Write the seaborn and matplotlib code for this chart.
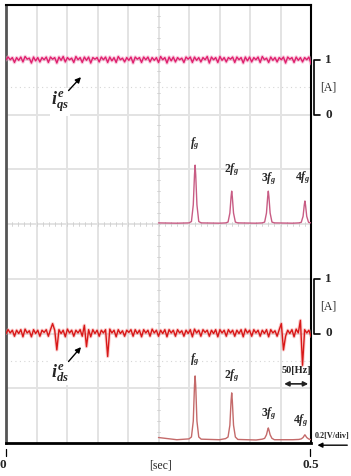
import numpy as np
import matplotlib
matplotlib.use("Agg")
import matplotlib.pyplot as plt
import seaborn as sns

sns.set_style("white")
plt.rcParams['font.family'] = ['Liberation Serif', 'DejaVu Serif']
plt.rcParams['mathtext.fontset'] = 'custom'
plt.rcParams['mathtext.it'] = 'Liberation Serif:italic:bold'
plt.rcParams['mathtext.rm'] = 'Liberation Serif:bold'

# ---------------- data ----------------
t_start, t_end = 0.0, 0.5          # [sec]
n_samples = 145

# i_qs^e [A] (top trace)
iqs = [1.00,
       1.05, 1.00, 1.04, 0.95, 1.04, 0.99, 1.05, 0.96,
       1.06, 1.01, 1.03, 0.94, 1.05, 0.98, 1.04, 0.96,
       1.04, 1.00, 1.05, 0.95, 1.05, 1.01, 1.04, 0.94,
       1.05, 0.99, 1.06, 0.96, 1.04, 1.00, 1.03, 0.95,
       1.06, 1.00, 1.04, 0.95, 1.05, 0.99, 1.05, 0.94,
       1.04, 1.01, 1.04, 0.96, 1.05, 1.00, 1.05, 0.95,
       1.05, 0.98, 1.04, 0.95, 1.06, 1.00, 1.03, 0.96,
       1.04, 0.99, 1.05, 0.94, 1.05, 1.01, 1.04, 0.95,
       1.05, 1.00, 1.05, 0.96, 1.04, 0.99, 1.04, 0.95,
       1.06, 1.00, 1.04, 0.94, 1.05, 0.98, 1.05, 0.96,
       1.04, 1.00, 1.03, 0.95, 1.05, 1.01, 1.05, 0.95,
       1.05, 0.99, 1.04, 0.96, 1.04, 1.00, 1.06, 0.94,
       1.05, 1.00, 1.04, 0.95, 1.06, 0.99, 1.04, 0.96,
       1.04, 1.01, 1.05, 0.95, 1.05, 1.00, 1.04, 0.94,
       1.05, 0.98, 1.05, 0.96, 1.04, 1.00, 1.05, 0.95,
       1.06, 1.00, 1.03, 0.95, 1.05, 0.99, 1.04, 0.96,
       1.04, 1.00, 1.05, 0.94, 1.05, 1.01, 1.04, 0.95,
       1.05, 0.99, 1.04, 0.96, 1.04, 1.00, 1.05, 0.93]

# i_ds^e [A] (bottom trace)
ids = [0.00,
       0.07, 0.01, 0.06, -0.05, 0.06, 0.00, 0.07, -0.06,
       0.08, 0.01, 0.05, -0.06, 0.07, 0.00, 0.06, -0.05,
       0.06, 0.02, 0.07, -0.05, 0.07, 0.18, 0.06, -0.30,
       0.07, 0.00, 0.06, -0.06, 0.08, 0.01, 0.06, -0.05,
       0.06, 0.01, 0.07, -0.05, 0.15, -0.24, 0.07, -0.06,
       0.07, 0.00, 0.06, -0.05, 0.06, 0.01, 0.07, -0.42,
       0.08, 0.01, 0.06, -0.06, 0.07, 0.00, 0.05, -0.05,
       0.06, 0.02, 0.07, -0.05, 0.07, 0.00, 0.06, -0.06,
       0.07, 0.01, 0.06, -0.05, 0.08, 0.01, 0.06, -0.05,
       0.06, 0.00, 0.07, -0.06, 0.07, 0.01, 0.06, -0.05,
       0.07, 0.01, 0.05, -0.05, 0.06, 0.00, 0.07, -0.06,
       0.08, 0.01, 0.06, -0.05, 0.07, 0.02, 0.06, -0.05,
       0.06, 0.00, 0.07, -0.06, 0.07, 0.01, 0.06, -0.05,
       0.07, 0.01, 0.06, -0.05, 0.06, 0.00, 0.07, -0.06,
       0.08, 0.01, 0.06, -0.05, 0.07, 0.01, 0.06, -0.05,
       0.06, 0.00, 0.07, -0.06, 0.07, 0.01, 0.05, -0.05,
       0.07, 0.18, -0.30, -0.05, 0.06, 0.00, 0.07, -0.06,
       0.08, 0.01, 0.24, -0.58, 0.07, 0.01, 0.06, -0.05]

# spectra [Hz] -> [V]
freq = [0, 30, 50, 54, 57, 59, 60, 61, 63, 66, 70,
        100, 110, 114, 117, 119, 120, 121, 123, 126, 130,
        160, 170, 174, 177, 179, 180, 181, 183, 186, 190,
        220, 230, 234, 237, 239, 240, 241, 243, 246, 250]
spec_qs = [0.004, 0.003, 0.004, 0.009, 0.07, 0.18, 0.215, 0.18, 0.07, 0.009, 0.004,
           0.003, 0.004, 0.007, 0.04, 0.10, 0.12, 0.10, 0.04, 0.007, 0.004,
           0.003, 0.004, 0.007, 0.04, 0.10, 0.12, 0.10, 0.04, 0.007, 0.004,
           0.003, 0.004, 0.006, 0.028, 0.07, 0.084, 0.07, 0.028, 0.006, 0.004]
spec_ds = [0.02, 0.012, 0.015, 0.022, 0.08, 0.21, 0.245, 0.21, 0.08, 0.022, 0.014,
           0.012, 0.016, 0.022, 0.065, 0.155, 0.183, 0.155, 0.065, 0.022, 0.013,
           0.011, 0.014, 0.017, 0.03, 0.048, 0.055, 0.048, 0.03, 0.017, 0.012,
           0.012, 0.013, 0.015, 0.02, 0.027, 0.03, 0.027, 0.02, 0.015, 0.012]
harm_freqs = [60, 120, 180, 240]
harm_labels = [r'$f_g$', r'$2f_g$', r'$3f_g$', r'$4f_g$']

# ---------------- figure ----------------
W, H = 351, 476
fig = plt.figure(figsize=(W / 100, H / 100), dpi=100)
rect = [6 / W, 33 / H, 305 / W, 438 / H]

# oscilloscope graticule (division units)
g = fig.add_axes(rect)
g.set_xlim(0, 10)
g.set_ylim(0, 8)
g.set_xticks([]); g.set_yticks([])
grid_c = '#e3e3e3'
for xv in range(1, 10):
    g.axvline(xv, color=grid_c, lw=1.4, zorder=0)
for yv in range(1, 8):
    g.axhline(yv, color=grid_c, lw=1.4, zorder=0)
for yv in (6.5, 1.5):
    g.axhline(yv, color='#d6d6d6', lw=0.8, ls=(0, (1, 3)), zorder=0)
# minor ticks on centre lines
for yy in np.arange(0.2, 8, 0.2):
    g.plot([4.96, 5.04], [yy, yy], color='#cfcfcf', lw=0.6, zorder=0)
for xx in np.arange(0.2, 10, 0.2):
    g.plot([xx, xx], [3.97, 4.03], color='#cfcfcf', lw=0.6, zorder=0)
for side, lw, c in (('left', 2.0, '#555555'), ('bottom', 2.0, 'black'),
                    ('right', 1.5, 'black'), ('top', 1.5, 'black')):
    g.spines[side].set_linewidth(lw)
    g.spines[side].set_color(c)

# top time trace: 1 A/div, zero at division 6
ax1 = fig.add_axes(rect)
ax1.axis('off')
t = np.linspace(t_start, t_end, n_samples)
sns.lineplot(x=t, y=iqs, ax=ax1, color='#f4a0c4', lw=2.6, alpha=0.5)
sns.lineplot(x=t, y=iqs, ax=ax1, color='#e0206e', lw=1.0)
ax1.set_xlim(t_start, t_end)
ax1.set_ylim(-6, 2)

# bottom time trace: zero at division 2
ax2 = fig.add_axes(rect)
ax2.axis('off')
sns.lineplot(x=t, y=ids, ax=ax2, color='#f49090', lw=2.4, alpha=0.45)
sns.lineplot(x=t, y=ids, ax=ax2, color='#d81818', lw=1.0)
ax2.set_xlim(t_start, t_end)
ax2.set_ylim(-2, 6)

# top spectrum: 50 Hz/div from centre, 0.2 V/div, baseline division 4
ax3 = fig.add_axes(rect)
ax3.axis('off')
sns.lineplot(x=freq, y=spec_qs, ax=ax3, color='#c85c84', lw=1.0)
ax3.set_xlim(-250, 250)
ax3.set_ylim(-0.8, 0.8)

# bottom spectrum: baseline division 0
ax4 = fig.add_axes(rect)
ax4.axis('off')
sns.lineplot(x=freq, y=spec_ds, ax=ax4, color='#c46a6a', lw=1.0)
ax4.set_xlim(-250, 250)
ax4.set_ylim(0, 1.6)

# harmonic labels
top_lab_y = [0.262, 0.168, 0.135, 0.14]
bot_lab_y = [0.275, 0.215, 0.075, 0.05]
top_dx = [0, 0, 1, -3]
bot_dx = [0, 0, 1, -6]
for f, lab, yt, yb, dt, db in zip(harm_freqs, harm_labels, top_lab_y, bot_lab_y,
                                  top_dx, bot_dx):
    ax3.text(f + dt, yt, lab, ha='center', va='bottom', fontsize=8.5, clip_on=False)
    ax4.text(f + db, yb, lab, ha='center', va='bottom', fontsize=8.5, clip_on=False)

# current labels with arrows
for (xy_txt, xy_head, lab) in (((1.77, 6.23), (2.52, 6.72), r'$i_{qs}^{e}$'),
                               ((1.77, 1.28), (2.52, 1.79), r'$i_{ds}^{e}$')):
    g.text(xy_txt[0], xy_txt[1], lab, ha='center', va='center', fontsize=13,
           bbox=dict(facecolor='white', edgecolor='none', pad=1.0), zorder=5)
    g.annotate('', xy=xy_head, xytext=(xy_txt[0] + 0.22, xy_txt[1] + 0.17),
               arrowprops=dict(arrowstyle='-|>', color='black', lw=1.0,
                               mutation_scale=8), zorder=6)

# right-hand amplitude brackets
for y0 in (6, 2):
    g.plot([10.3, 10.1, 10.1, 10.3], [y0 + 1, y0 + 1, y0, y0], color='black',
           lw=1.2, clip_on=False)
    g.text(10.57, y0 + 1, '1', ha='center', va='center', fontsize=9.5,
           fontweight='bold', clip_on=False)
    g.text(10.55, y0 + 0.5, '[A]', ha='center', va='center', fontsize=8.5,
           clip_on=False)
    g.text(10.57, y0, '0', ha='center', va='center', fontsize=9.5,
           fontweight='bold', clip_on=False)

# 50 Hz scale arrow
g.annotate('', xy=(9.03, 1.08), xytext=(10.0, 1.08),
           arrowprops=dict(arrowstyle='<|-|>', color='#222222', lw=1.2,
                           mutation_scale=7))
g.text(9.53, 1.32, '50[Hz]', ha='center', va='center', fontsize=7.5,
       fontweight='bold')

# 0.2 V/div marker
g.text(10.70, 0.13, '0.2[V/div]', ha='center', va='center', fontsize=5.9,
       fontweight='bold', clip_on=False)
g.annotate('', xy=(10.12, -0.04), xytext=(11.28, -0.04),
           arrowprops=dict(arrowstyle='-|>', color='black', lw=1.0,
                           mutation_scale=7), annotation_clip=False)

# time axis marks
for xv in (0.0, 9.97):
    g.plot([xv, xv], [-0.11, -0.24], color='black', lw=0.9, clip_on=False)
g.text(-0.1, -0.41, '0', ha='center', va='center', fontsize=9.5,
       fontweight='bold', clip_on=False)
g.text(5.05, -0.42, '[sec]', ha='center', va='center', fontsize=8.5, clip_on=False)
g.text(10.0, -0.41, '0.5', ha='center', va='center', fontsize=9.5,
       fontweight='bold', clip_on=False)

fig.savefig('out.png', dpi=100)
